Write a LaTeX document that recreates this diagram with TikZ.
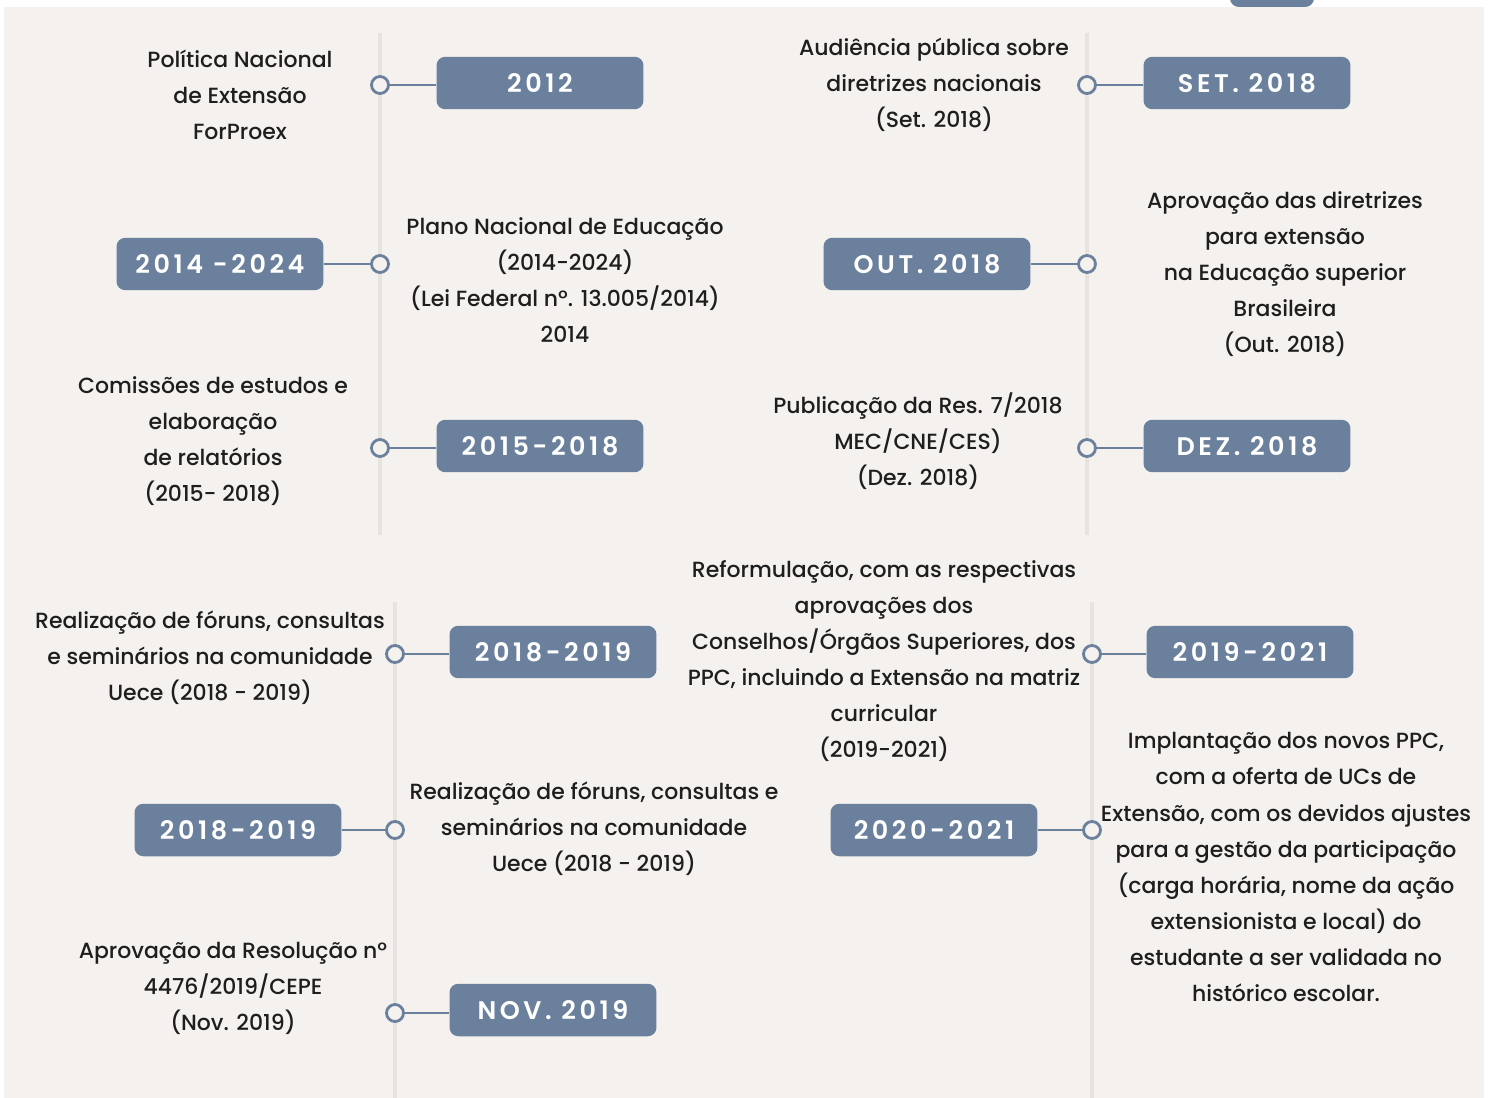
\documentclass[tikz,border=0pt]{standalone}
\usepackage{fontspec}
\setmainfont{Poppins}[UprightFont=* Medium, BoldFont=* SemiBold]
\newfontfamily\yearfont{Poppins}[LetterSpace=14, UprightFont=* Medium, BoldFont=* SemiBold]
\definecolor{bgbeige}{HTML}{F4F1EE}
\definecolor{slate}{HTML}{6A809C}
\definecolor{railgray}{HTML}{E6E3E1}
\definecolor{inkdark}{HTML}{1E1E1E}

\tikzset{
  yearbox/.style={draw=none, fill=slate, rounded corners=5pt, text=white,
    minimum width=4.14cm, minimum height=1.05cm, inner sep=0pt,
    font=\yearfont\bfseries\fontsize{14.5}{18}\selectfont},
  dot/.style={circle, draw=slate, fill=bgbeige, line width=1.6pt,
    minimum size=0.34cm, inner sep=0pt},
  stem/.style={draw=slate, line width=1.5pt},
  rail/.style={draw=railgray, line width=2.6pt},
  note/.style={align=center, text=inkdark, inner sep=0pt,
    font=\fontsize{12.5}{20.5}\selectfont},
}

\begin{document}
\begin{tikzpicture}[x=0.02cm, y=-0.02cm]
  \useasboundingbox (0,0) rectangle (1491,1098);
  % Background
  \fill[white] (0,0) rectangle (1491,1098);
  \fill[bgbeige] (4,7) rectangle (1484,1098);
  \begin{scope}
    \clip (0,0) rectangle (1491,7);
    \fill[slate, rounded corners=5pt] (1230,-30) rectangle (1314,7);
  \end{scope}

  % Rails
  \draw[rail] (380,33) -- (380,535);
  \draw[rail] (1087,33) -- (1087,535);
  \draw[rail] (395,602) -- (395,1098);
  \draw[rail] (1092,602) -- (1092,1098);

  % Upper left column
  \node[note] (t1) at (240,95) {Política Nacional\\de Extensão\\ForProex};
  \node[dot] (c1) at (380,85) {};
  \node[yearbox] (b1) at (540,83) {2012};
  \draw[stem] (c1) -- (c1 -| b1.west);

  \node[yearbox] (b2) at (220,264) {2014 -2024};
  \node[dot] (c2) at (380,264) {};
  \node[note] (t2) at (565,280) {Plano Nacional de Educação\\(2014-2024)\\(Lei Federal nº. 13.005/2014)\\2014};
  \draw[stem] (c2 -| b2.east) -- (c2);

  \node[note] (t3) at (213,441) {Comissões de estudos e\\elaboração\\de relatórios\\(2015- 2018)};
  \node[dot] (c3) at (380,448) {};
  \node[yearbox] (b3) at (540,446) {2015-2018};
  \draw[stem] (c3) -- (c3 -| b3.west);

  % Upper right column
  \node[note] (t4) at (934,85) {Audiência pública sobre\\diretrizes nacionais\\(Set. 2018)};
  \node[dot] (c4) at (1087,85) {};
  \node[yearbox] (b4) at (1247,83) {SET. 2018};
  \draw[stem] (c4) -- (c4 -| b4.west);

  \node[yearbox] (b5) at (927,264) {OUT. 2018};
  \node[dot] (c5) at (1087,264) {};
  \node[note] (t5) at (1285,274) {Aprovação das diretrizes\\para extensão\\na Educação superior\\Brasileira\\(Out. 2018)};
  \draw[stem] (c5 -| b5.east) -- (c5);

  \node[note] (t6) at (918,441) {Publicação da Res. 7/2018\\MEC/CNE/CES)\\(Dez. 2018)};
  \node[dot] (c6) at (1087,448) {};
  \node[yearbox] (b6) at (1247,446) {DEZ. 2018};
  \draw[stem] (c6) -- (c6 -| b6.west);

  % Lower left column
  \node[note] (t7) at (210,658) {Realização de fóruns, consultas\\e seminários na comunidade\\Uece (2018 - 2019)};
  \node[dot] (c7) at (395,654) {};
  \node[yearbox] (b7) at (553,652) {2018-2019};
  \draw[stem] (c7) -- (c7 -| b7.west);

  \node[yearbox] (b8) at (238,830) {2018-2019};
  \node[dot] (c8) at (395,830) {};
  \node[note] (t8) at (594,829) {Realização de fóruns, consultas e\\seminários na comunidade\\Uece (2018 - 2019)};
  \draw[stem] (c8 -| b8.east) -- (c8);

  \node[note] (t9) at (233,988) {Aprovação da Resolução nº\\4476/2019/CEPE\\(Nov. 2019)};
  \node[dot] (c9) at (395,1013) {};
  \node[yearbox] (b9) at (553,1010) {NOV. 2019};
  \draw[stem] (c9) -- (c9 -| b9.west);

  % Lower right column
  \node[note] (t10) at (884,661) {Reformulação, com as respectivas\\aprovações dos\\Conselhos/Órgãos Superiores, dos\\PPC, incluindo a Extensão na matriz\\curricular\\(2019-2021)};
  \node[dot] (c10) at (1092,654) {};
  \node[yearbox] (b10) at (1250,652) {2019-2021};
  \draw[stem] (c10) -- (c10 -| b10.west);

  \node[yearbox] (b11) at (934,830) {2020-2021};
  \node[dot] (c11) at (1092,830) {};
  \node[note] (t11) at (1286,867) {Implantação dos novos PPC,\\com a oferta de UCs de\\Extensão, com os devidos ajustes\\para a gestão da participação\\(carga horária, nome da ação\\extensionista e local) do\\estudante a ser validada no\\histórico escolar.};
  \draw[stem] (c11 -| b11.east) -- (c11);
\end{tikzpicture}
\end{document}
